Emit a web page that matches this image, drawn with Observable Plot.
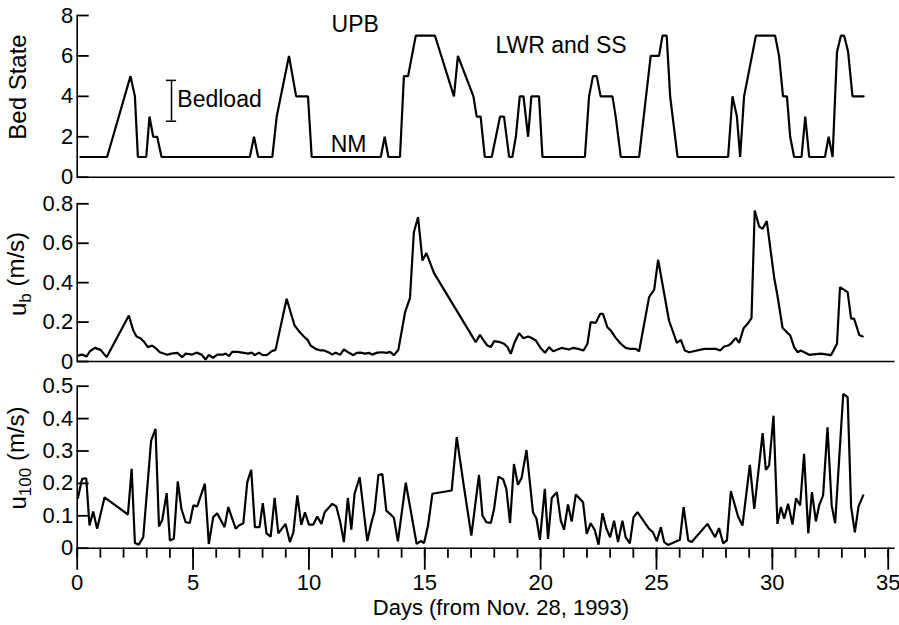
<!DOCTYPE html>
<html><head><meta charset="utf-8">
<script src="https://cdn.jsdelivr.net/npm/d3@7"></script>
<script src="https://cdn.jsdelivr.net/npm/@observablehq/plot@0.6"></script>
<style>
html,body{margin:0;padding:0;background:#fff;}
#chart{width:899px;height:625px;overflow:hidden;}
#chart svg{display:block;}
</style></head><body><div id="chart"></div>
<script>
// ---- Bed state ----
const bed_day = [0.14,1.29,2.30,2.49,2.62,2.98,3.12,3.28,3.45,3.64,7.45,7.63,7.81,8.42,8.61,9.14,9.45,9.96,10.12,13.10,13.27,13.43,13.93,14.10,14.28,14.61,15.44,16.26,16.43,17.10,17.24,17.41,17.59,17.89,18.25,18.42,18.64,18.78,18.93,19.10,19.26,19.46,19.60,19.93,20.08,21.91,22.09,22.26,22.42,22.59,23.10,23.24,23.46,24.25,24.75,25.11,25.26,25.44,25.59,25.91,28.09,28.28,28.47,28.61,28.78,29.29,30.12,30.29,30.46,30.63,30.77,30.94,31.26,31.42,31.59,32.27,32.43,32.60,32.79,32.96,33.10,33.27,33.46,33.94];
const bed_state = [1,1,5,4,1,1,3,2,2,1,1,2,1,1,3,6,4,4,1,1,2,1,1,5,5,7,7,4,6,4,3,3,1,1,3,3,1,1,2,4,4,2,4,4,1,1,4,5,5,4,4,3,1,1,6,6,7,7,4,1,1,4,3,1,4,7,7,6,4,4,2,1,1,3,1,1,2,1,6.2,7,7,6.2,4,4];

// ---- u_b (m/s) ----
const ub_day = [0.03,0.21,0.40,0.55,0.76,1.01,1.27,2.23,2.42,2.56,2.73,2.88,3.05,3.24,3.38,3.57,3.89,4.06,4.32,4.53,4.68,4.97,5.15,5.37,5.54,5.68,5.86,6.05,6.30,6.40,6.55,6.69,6.91,7.19,7.38,7.53,7.67,7.84,8.01,8.20,8.39,8.56,9.04,9.21,9.38,9.57,9.78,9.96,10.07,10.29,10.50,10.65,10.86,11.01,11.15,11.34,11.51,11.73,11.92,12.06,12.23,12.42,12.59,12.73,12.95,13.17,13.35,13.50,13.67,13.86,14.15,14.36,14.53,14.71,14.90,15.07,15.40,17.20,17.38,17.56,17.70,17.85,17.99,18.25,18.42,18.57,18.71,18.88,19.07,19.26,19.46,19.57,19.79,20.00,20.19,20.36,20.54,20.90,21.23,21.38,21.62,21.85,22.02,22.16,22.38,22.57,22.69,22.88,23.03,23.24,23.46,23.67,23.86,24.11,24.25,24.68,24.90,25.07,25.54,25.88,26.05,26.22,26.41,27.06,27.56,27.75,27.92,28.09,28.21,28.42,28.57,28.76,28.93,29.10,29.24,29.43,29.58,29.76,30.08,30.22,30.44,30.66,30.77,30.94,31.09,31.23,31.59,32.09,32.53,32.64,32.79,32.92,33.25,33.40,33.53,33.75,33.90];
const ub = [0.030,0.035,0.025,0.052,0.069,0.059,0.022,0.233,0.157,0.127,0.118,0.101,0.073,0.081,0.068,0.047,0.034,0.040,0.044,0.022,0.040,0.035,0.045,0.035,0.010,0.034,0.019,0.035,0.035,0.040,0.027,0.049,0.049,0.044,0.040,0.045,0.032,0.045,0.032,0.034,0.052,0.059,0.318,0.25,0.183,0.154,0.127,0.107,0.081,0.064,0.056,0.056,0.046,0.035,0.045,0.034,0.061,0.044,0.032,0.044,0.045,0.040,0.044,0.035,0.045,0.047,0.044,0.049,0.032,0.059,0.25,0.321,0.656,0.732,0.512,0.55,0.448,0.098,0.135,0.103,0.081,0.073,0.103,0.098,0.090,0.073,0.039,0.098,0.144,0.118,0.127,0.122,0.107,0.068,0.044,0.073,0.052,0.069,0.061,0.069,0.064,0.056,0.090,0.20,0.196,0.242,0.242,0.174,0.157,0.120,0.090,0.069,0.064,0.064,0.052,0.326,0.364,0.516,0.208,0.095,0.110,0.056,0.047,0.064,0.064,0.056,0.076,0.081,0.090,0.120,0.095,0.169,0.191,0.22,0.766,0.685,0.673,0.712,0.425,0.335,0.171,0.144,0.133,0.073,0.047,0.056,0.034,0.040,0.032,0.056,0.090,0.377,0.352,0.217,0.217,0.135,0.127];

// ---- u_100 (m/s) ----
const u100_day = [0.03,0.21,0.39,0.53,0.69,0.86,1.18,2.19,2.35,2.49,2.66,2.85,3.19,3.38,3.53,3.67,3.86,4.00,4.17,4.34,4.50,4.68,4.86,5.01,5.18,5.51,5.68,5.87,6.04,6.36,6.52,6.84,6.98,7.17,7.34,7.51,7.67,7.87,8.01,8.17,8.35,8.52,8.68,8.99,9.18,9.33,9.50,9.67,9.83,10.00,10.19,10.36,10.54,10.68,11.01,11.18,11.34,11.51,11.68,11.83,11.97,12.19,12.52,12.69,12.83,13.00,13.17,13.34,13.50,13.67,13.84,14.18,14.65,14.82,14.97,15.14,15.33,16.16,16.38,16.67,17.01,17.34,17.49,17.66,17.85,17.99,18.18,18.38,18.52,18.68,18.85,19.02,19.18,19.39,19.67,19.82,19.97,20.18,20.32,20.48,20.70,20.87,21.01,21.18,21.34,21.52,21.83,21.99,22.16,22.33,22.50,22.67,22.84,23.00,23.17,23.34,23.53,23.67,23.85,24.01,24.18,24.68,24.85,25.01,25.19,25.33,25.50,26.01,26.17,26.37,26.52,27.20,27.53,27.70,27.88,28.04,28.21,28.52,28.71,29.03,29.22,29.58,29.72,29.86,30.05,30.22,30.37,30.51,30.68,30.87,31.02,31.20,31.37,31.55,31.71,31.88,32.02,32.19,32.38,32.56,32.71,33.06,33.25,33.40,33.56,33.72,33.92];
const u100 = [0.155,0.214,0.216,0.070,0.113,0.060,0.157,0.104,0.245,0.016,0.011,0.034,0.332,0.368,0.067,0.087,0.170,0.024,0.029,0.206,0.121,0.080,0.078,0.132,0.129,0.199,0.013,0.096,0.108,0.065,0.127,0.060,0.070,0.077,0.204,0.242,0.065,0.065,0.139,0.046,0.036,0.155,0.046,0.075,0.019,0.049,0.163,0.072,0.111,0.073,0.073,0.098,0.075,0.111,0.137,0.129,0.085,0.019,0.155,0.057,0.168,0.219,0.022,0.077,0.113,0.226,0.229,0.116,0.106,0.093,0.021,0.202,0.013,0.022,0.016,0.070,0.168,0.178,0.343,0.199,0.039,0.226,0.101,0.080,0.078,0.121,0.221,0.213,0.183,0.078,0.260,0.196,0.217,0.303,0.111,0.091,0.026,0.183,0.029,0.155,0.173,0.085,0.057,0.135,0.082,0.166,0.142,0.044,0.077,0.057,0.011,0.108,0.060,0.034,0.085,0.019,0.085,0.034,0.015,0.096,0.111,0.060,0.049,0.022,0.065,0.019,0.010,0.026,0.127,0.024,0.019,0.075,0.034,0.062,0.015,0.024,0.176,0.098,0.070,0.257,0.121,0.355,0.242,0.255,0.409,0.075,0.127,0.091,0.137,0.073,0.154,0.132,0.291,0.046,0.173,0.083,0.132,0.163,0.373,0.132,0.077,0.476,0.466,0.127,0.049,0.129,0.163];

// ---- ticks & labels ----
const bedTicks = [0,2,4,6,8];
const ubTicks = [0,0.2,0.4,0.6,0.8];
const u100Ticks = [0,0.1,0.2,0.3,0.4,0.5];
const dayMajor = [0,5,10,15,20,25,30,35];
const dayMinor = d3.range(0,36,1);
const labelsCentered = [
  {x: 12.0, y: 7.53, text: "UPB"},
  {x: 20.88, y: 6.52, text: "LWR and SS"},
  {x: 11.71, y: 1.61, text: "NM"}
];
const labelsStart = [{x: 4.32, y: 3.86, text: "Bedload"}];
const bedloadBar = {x: 4.07, lo: 2.77, hi: 4.79};
const xLabel = "Days (from Nov. 28, 1993)";

const FONT = "'Liberation Sans', Arial, Helvetica, sans-serif";
const W = 899, ML = 76.7, MR = 11.3;
const PX_PER_DAY = (W - ML - MR) / 35;

function panel({height, mt, mb, yDomain, yTicks, marks}) {
  return Plot.plot({
    width: W, height, marginLeft: ML, marginRight: MR, marginTop: mt, marginBottom: mb,
    style: {fontFamily: FONT, fontSize: "22px", color: "#000", background: "#fff", overflow: "visible"},
    x: {domain: [0, 35], axis: null},
    y: {domain: yDomain, axis: null},
    marks: [
      Plot.axisY({ticks: yTicks, tickSize: 0, tickPadding: 4, tickFormat: d => String(d), label: null}),
      Plot.ruleX([0], {y1: yDomain[0], y2: yDomain[1], stroke: "#000", strokeWidth: 1.6}),
      Plot.ruleY([0], {x1: 0, x2: 35.3, stroke: "#000", strokeWidth: 1.6}),
      // inward y ticks, 12px long
      Plot.ruleY(yTicks, {x1: 0, x2: 12 / PX_PER_DAY, stroke: "#000", strokeWidth: 1.8}),
      ...marks
    ]
  });
}

const lineStyle = {stroke: "#000", strokeWidth: 2.2, strokeLinejoin: "miter"};

const p1 = panel({height: 190, mt: 15, mb: 13.3, yDomain: [0, 8], yTicks: bedTicks, marks: [
  Plot.line(bed_state, {x: bed_day, y: bed_state, ...lineStyle}),
  Plot.text(labelsCentered, {x: "x", y: "y", text: "text", textAnchor: "middle", fontSize: 23, fill: "#000"}),
  Plot.text(labelsStart, {x: "x", y: "y", text: "text", textAnchor: "start", fontSize: 23, fill: "#000"}),
  Plot.ruleX([bedloadBar], {x: "x", y1: "lo", y2: "hi", stroke: "#000", strokeWidth: 1.5}),
  Plot.ruleY([bedloadBar.lo, bedloadBar.hi], {x1: bedloadBar.x - 0.22, x2: bedloadBar.x + 0.22, stroke: "#000", strokeWidth: 1.5})
]});

const p2 = panel({height: 182, mt: 13.3, mb: 11, yDomain: [0, 0.8], yTicks: ubTicks, marks: [
  Plot.line(ub, {x: ub_day, y: ub, ...lineStyle})
]});

const yPerPx3 = 0.5 / (253 - 13.7 - 77.3);
const p3 = panel({height: 253, mt: 13.7, mb: 77.3, yDomain: [0, 0.5], yTicks: u100Ticks, marks: [
  Plot.line(u100, {x: u100_day, y: u100, ...lineStyle}),
  Plot.ruleX(dayMinor, {y1: 0, y2: -10 * yPerPx3, stroke: "#000", strokeWidth: 1.8}),
  Plot.ruleX(dayMajor, {y1: 0, y2: -22 * yPerPx3, stroke: "#000", strokeWidth: 1.8}),
  Plot.axisX({ticks: dayMajor, tickSize: 0, tickPadding: 26, tickFormat: d => String(d), label: null})
]});

function yLabel(svg, cy, main, sub, rest) {
  const t = d3.select(svg).append("text")
    .attr("transform", `translate(26,${cy}) rotate(-90)`)
    .attr("text-anchor", "middle")
    .attr("font-family", FONT).attr("font-size", 24).attr("fill", "#000");
  t.append("tspan").text(main);
  if (sub) {
    t.append("tspan").attr("dy", "0.3em").attr("font-size", 17).text(sub);
    t.append("tspan").attr("dy", "-0.3em").text(rest);
  }
}
yLabel(p1, 87, "Bed State");
yLabel(p2, 84, "u", "b", " (m/s)");
yLabel(p3, 86, "u", "100", " (m/s)");
d3.select(p3).append("text").attr("x", 501).attr("y", 243).attr("text-anchor", "middle")
  .attr("font-family", FONT).attr("font-size", 22).attr("fill", "#000").text(xLabel);

const c = document.getElementById("chart");
c.append(p1, p2, p3);
</script></body></html>
